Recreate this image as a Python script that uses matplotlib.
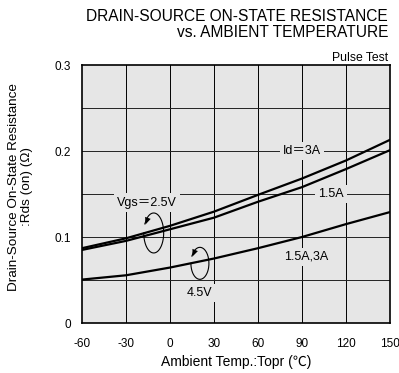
import numpy as np
import matplotlib
matplotlib.use("Agg")
import matplotlib.pyplot as plt
from matplotlib.path import Path

plt.rcParams['font.family'] = ['Liberation Sans', 'Noto Sans CJK JP', 'DejaVu Sans']

# Data
temp = [-60, -30, 0, 30, 60, 90, 120, 150]
vgs25_id3 = [0.087, 0.0985, 0.113, 0.1295, 0.149, 0.168, 0.189, 0.213]
vgs25_id15 = [0.085, 0.0955, 0.109, 0.1225, 0.141, 0.158, 0.179, 0.201]
vgs45 = [0.0505, 0.0555, 0.0645, 0.075, 0.087, 0.100, 0.115, 0.129]

xticks = [-60, -30, 0, 30, 60, 90, 120, 150]
yticks = [0, 0.1, 0.2, 0.3]
ygrid = [0.05, 0.1, 0.15, 0.2, 0.25]

BG = '#e6e6e6'

fig = plt.figure(figsize=(3.99, 3.73), dpi=100)
ax = fig.add_axes([0.2055, 0.134, 0.7719, 0.6917])
ax.set_facecolor(BG)

for x in xticks[1:-1]:
    ax.axvline(x, color='black', lw=0.7, zorder=1)
for y in ygrid:
    ax.axhline(y, color='#222222', lw=0.7, zorder=1)

ax.plot(temp, vgs25_id3, color='black', lw=1.6, zorder=3, solid_joinstyle='round')
ax.plot(temp, vgs25_id15, color='black', lw=1.6, zorder=3, solid_joinstyle='round')
ax.plot(temp, vgs45, color='black', lw=1.6, zorder=3, solid_joinstyle='round')

ax.set_xlim(-60, 150)
ax.set_ylim(0, 0.3)
ax.set_xticks(xticks)
ax.set_xticklabels([str(v) for v in xticks])
ax.set_yticks(yticks)
ax.set_yticklabels(['0', '0.1', '0.2', '0.3'])
ax.tick_params(length=0, labelsize=8.5)
ax.tick_params(axis='y', pad=8)
ax.tick_params(axis='x', pad=11)
for s in ax.spines.values():
    s.set_linewidth(1.2)

tb = dict(boxstyle='square,pad=0.25', facecolor=BG, edgecolor='none')
fs = 9
ax.text(90, 0.2, 'Id＝3A', ha='center', va='center', fontsize=fs, bbox=tb, zorder=2)
ax.text(110, 0.15, '1.5A', ha='center', va='center', fontsize=fs, bbox=tb, zorder=2)
ax.text(93, 0.077, '1.5A,3A', ha='center', va='center', fontsize=fs, bbox=tb, zorder=2)
ax.text(-15.5, 0.140, 'Vgs＝2.5V', ha='center', va='center', fontsize=fs, bbox=tb, zorder=2)
ax.text(20, 0.035, '4.5V', ha='center', va='center', fontsize=fs, bbox=tb, zorder=2)


def loop_arrow(cx, cy, w, h):
    th = np.radians(np.linspace(180, 495, 160))
    xs = cx + w / 2 * np.cos(th)
    ys = cy + h / 2 * np.sin(th)
    ax.plot(xs, ys, color='black', lw=0.8, zorder=4)
    t_end = np.radians(513)
    t_pre = np.radians(495)
    pe = (cx + w / 2 * np.cos(t_end), cy + h / 2 * np.sin(t_end))
    pp = (cx + w / 2 * np.cos(t_pre), cy + h / 2 * np.sin(t_pre))
    de = ax.transData.transform(pe)
    dp = ax.transData.transform(pp)
    ang = np.arctan2(de[1] - dp[1], de[0] - dp[0])
    base = np.array([[0, 0], [-1, 0.42], [-1, -0.42], [0, 0]])
    rot = np.array([[np.cos(ang), -np.sin(ang)], [np.sin(ang), np.cos(ang)]])
    verts = base @ rot.T
    marker = Path(verts, [Path.MOVETO, Path.LINETO, Path.LINETO, Path.CLOSEPOLY])
    # line from pre-point to tip, then head at tip
    ax.plot([pp[0], pe[0]], [pp[1], pe[1]], color='black', lw=0.8, zorder=4)
    ax.plot([pe[0]], [pe[1]], marker=marker, markersize=11, color='black',
            markeredgewidth=0, zorder=5)


loop_arrow(-11.1, 0.1047, 13.6, 0.0465)
loop_arrow(20.4, 0.0694, 12.3, 0.0372)

fig.text(0.5915, 0.0295, 'Ambient Temp.:Topr (℃)', ha='center', va='center', fontsize=10)
fig.text(0.0514, 0.4987, 'Drain-Source On-State Resistance\n:Rds (on) (Ω)', ha='center',
         va='center', rotation=90, fontsize=9.7, linespacing=1.2, multialignment='center')

fig.text(0.9724, 0.976, 'DRAIN-SOURCE ON-STATE RESISTANCE\nvs. AMBIENT TEMPERATURE',
         ha='right', va='top', fontsize=11.2, linespacing=1.05)
fig.text(0.9724, 0.8365, 'Pulse Test', ha='right', va='baseline', fontsize=8.8)

fig.savefig('out.png', dpi=100)
